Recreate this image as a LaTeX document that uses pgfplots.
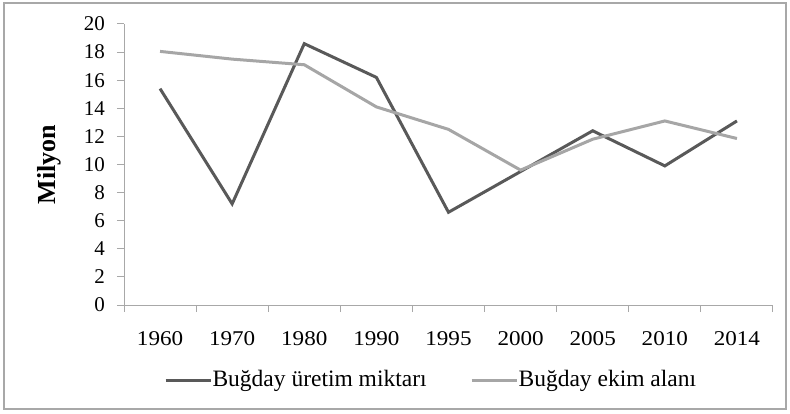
\documentclass[border=0pt]{standalone}
\usepackage{fontspec}
\setmainfont{Liberation Serif}
\newfontfamily\xfont{Liberation Serif}[FakeStretch=1.1]
\usepackage{pgfplots}
\pgfplotsset{compat=1.18}
\definecolor{prod}{HTML}{595959}
\definecolor{area}{HTML}{A6A6A6}
\definecolor{axgray}{HTML}{A8A8A8}
\begin{document}
\fontsize{21}{24}\selectfont
\begin{tikzpicture}
\useasboundingbox (0,0) rectangle (790pt,413pt);
\draw[axgray, line width=1.5pt] (4pt,4pt) rectangle (786pt,410pt);
\begin{axis}[at={(124pt,108pt)}, anchor=south west, scale only axis,
  width=649pt, height=281pt,
  xmin=-0.5, xmax=8.5, ymin=0, ymax=20, ytick={0,2,...,20},
  xtick={0,...,8},
  xticklabels={1960,1970,1980,1990,1995,2000,2005,2010,2014},
  minor xtick={-0.5,0.5,...,8.5},
  axis x line*=bottom, axis y line*=left,
  axis line style={axgray, line width=1pt, -},
  tick align=outside,
  major tick length=7pt, minor tick length=7pt,
  major x tick style={draw=none},
  minor x tick style={axgray, line width=1pt},
  y tick style={axgray, line width=1pt},
  /pgf/number format/assume math mode=true,
  xticklabel style={font=\xfont\fontsize{21}{24}\selectfont, text=black, yshift=-12pt},
  yticklabel style={font=\fontsize{21}{24}\selectfont, text=black, xshift=-5pt},
  ylabel={Milyon},
  ylabel style={at={(axis description cs:-0.1156,0.5)}, anchor=center,
    font=\fontsize{26}{30}\selectfont\bfseries},
  legend columns=2,
  legend style={at={(axis description cs:0.472,-0.267)}, anchor=center,
    draw=none, fill=none, font=\fontsize{23.5}{27}\selectfont,
    nodes={inner xsep=0.5pt},
    /tikz/every even column/.append style={column sep=43pt},
    inner sep=0pt},
  legend image code/.code={\draw[#1] (0pt,0pt) -- (45pt,0pt);},
  legend cell align=left,
  clip=false,
]
\addplot[prod, line width=3pt] coordinates {
  (0,15.4) (1,7.2) (2,18.6) (3,16.2) (4,6.6) (5,9.5) (6,12.4) (7,9.9) (8,13.1)};
\addlegendentry{Buğday üretim miktarı}
\addplot[area, line width=3pt] coordinates {
  (0,18.05) (1,17.5) (2,17.1) (3,14.1) (4,12.5) (5,9.6) (6,11.8) (7,13.1) (8,11.85)};
\addlegendentry{Buğday ekim alanı}
\end{axis}
\end{tikzpicture}
\end{document}
